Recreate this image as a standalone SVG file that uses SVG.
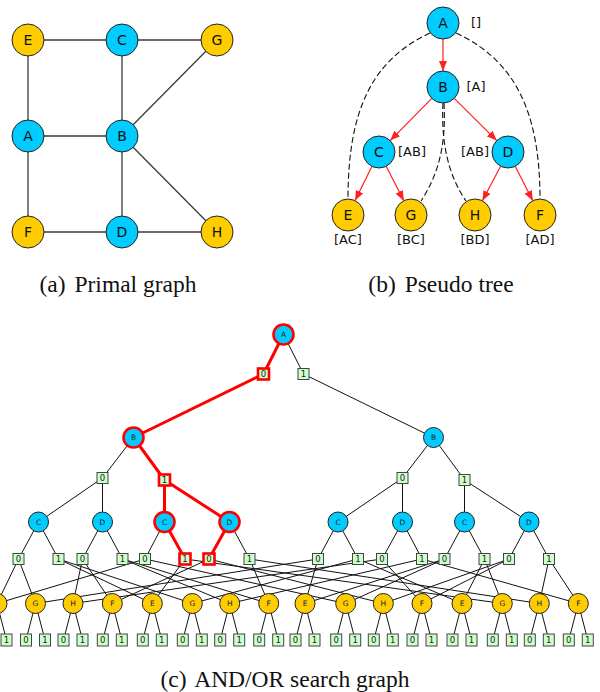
<svg xmlns="http://www.w3.org/2000/svg" width="600" height="692" viewBox="0 0 600 692">
<defs>
<style>
.bg{fill:#ffffff}
.pe{stroke:#3a3a3a;stroke-width:1.3;fill:none}
.nb{fill:#00ccff;stroke:#222;stroke-width:1}
.ny{fill:#ffcc00;stroke:#222;stroke-width:1}
.nt{font-family:"DejaVu Sans",sans-serif;font-size:14px;fill:#111;text-anchor:middle;dominant-baseline:central}
.lb{font-family:"DejaVu Sans",sans-serif;font-size:13px;fill:#111;text-anchor:middle;dominant-baseline:central}
.ra{stroke:#ff2020;stroke-width:1.2;fill:none;marker-end:url(#arr)}
.da{stroke:#111;stroke-width:1.1;fill:none;stroke-dasharray:6 3}
.cap{font-family:"Liberation Serif",serif;font-size:23.5px;fill:#111;text-anchor:middle}
.se{stroke:#111;stroke-width:1;fill:none}
.sr{stroke:#ff0000;stroke-width:3;fill:none;stroke-linecap:round}
.so{fill:#00ccff;stroke:#222;stroke-width:1}
.sy{fill:#ffcc00;stroke:#222;stroke-width:1}
.sa{fill:#ccffcc;stroke:#444;stroke-width:1}
.hl{stroke:#ff0000;stroke-width:2.6}
.st{font-family:"DejaVu Sans",sans-serif;font-size:7.5px;fill:#222;text-anchor:middle;dominant-baseline:central}
.sn{font-family:"DejaVu Sans",sans-serif;font-size:8.5px;fill:#222;text-anchor:middle;dominant-baseline:central}
</style>
<marker id="arr" markerUnits="userSpaceOnUse" markerWidth="10" markerHeight="8" refX="10" refY="4" orient="auto">
<path d="M0,0 L10,4 L0,8 Z" fill="#ff2020"/>
</marker>
</defs>
<rect class="bg" x="0" y="0" width="600" height="692"/>

<!-- (a) Primal graph -->
<g id="primal-edges">
<line class="pe" x1="28" y1="40" x2="122" y2="40"/>
<line class="pe" x1="122" y1="40" x2="217" y2="40"/>
<line class="pe" x1="28" y1="40" x2="28" y2="136"/>
<line class="pe" x1="122" y1="40" x2="122" y2="136"/>
<line class="pe" x1="217" y1="40" x2="122" y2="136"/>
<line class="pe" x1="28" y1="136" x2="122" y2="136"/>
<line class="pe" x1="28" y1="136" x2="28" y2="232"/>
<line class="pe" x1="122" y1="136" x2="122" y2="232"/>
<line class="pe" x1="122" y1="136" x2="217" y2="232"/>
<line class="pe" x1="28" y1="232" x2="122" y2="232"/>
<line class="pe" x1="122" y1="232" x2="217" y2="232"/>
</g>
<g id="pE"><circle class="ny" cx="28" cy="40" r="16"/><text class="nt" x="28" y="40">E</text></g>
<g id="pC"><circle class="nb" cx="122" cy="40" r="16"/><text class="nt" x="122" y="40">C</text></g>
<g id="pG"><circle class="ny" cx="217" cy="40" r="16"/><text class="nt" x="217" y="40">G</text></g>
<g id="pA"><circle class="nb" cx="28" cy="136" r="16"/><text class="nt" x="28" y="136">A</text></g>
<g id="pB"><circle class="nb" cx="122" cy="136" r="16"/><text class="nt" x="122" y="136">B</text></g>
<g id="pF"><circle class="ny" cx="28" cy="232" r="16"/><text class="nt" x="28" y="232">F</text></g>
<g id="pD"><circle class="nb" cx="122" cy="232" r="16"/><text class="nt" x="122" y="232">D</text></g>
<g id="pH"><circle class="ny" cx="217" cy="232" r="16"/><text class="nt" x="217" y="232">H</text></g>
<text class="cap" x="118" y="292">(a)<tspan dx="3"> Primal graph</tspan></text>

<!-- (b) Pseudo tree -->
<g id="tree-edges">
<path class="da" d="M430,33 C372,60 348,110 348,199"/>
<path class="da" d="M456,33 C514,60 540,110 540,199"/>
<path class="da" d="M444,103 C446,142 440,172 421,201"/>
<path class="da" d="M443,103 C441,142 448,175 466,201"/>
<line class="ra" x1="443" y1="39" x2="443" y2="71"/>
<line class="ra" x1="431.8" y1="98.4" x2="390.2" y2="140.6"/>
<line class="ra" x1="454.2" y1="98.4" x2="496.8" y2="140.6"/>
<line class="ra" x1="371.9" y1="166.4" x2="355.1" y2="200.6"/>
<line class="ra" x1="386.2" y1="166.3" x2="403.8" y2="200.7"/>
<line class="ra" x1="500.6" y1="166.2" x2="482.4" y2="200.8"/>
<line class="ra" x1="515.2" y1="166.3" x2="532.8" y2="200.7"/>
</g>
<g id="tA"><circle class="nb" cx="443" cy="23" r="16"/><text class="nt" x="443" y="23">A</text><text class="lb" x="476" y="22">[]</text></g>
<g id="tB"><circle class="nb" cx="443" cy="87" r="16"/><text class="nt" x="443" y="87">B</text><text class="lb" x="476" y="86">[A]</text></g>
<g id="tC"><circle class="nb" cx="379" cy="152" r="16"/><text class="nt" x="379" y="152">C</text><text class="lb" x="412" y="151">[AB]</text></g>
<g id="tD"><circle class="nb" cx="508" cy="152" r="16"/><text class="nt" x="508" y="152">D</text><text class="lb" x="475" y="151">[AB]</text></g>
<g id="tE"><circle class="ny" cx="348" cy="215" r="16"/><text class="nt" x="348" y="215">E</text><text class="lb" x="348" y="239">[AC]</text></g>
<g id="tG"><circle class="ny" cx="411" cy="215" r="16"/><text class="nt" x="411" y="215">G</text><text class="lb" x="411" y="239">[BC]</text></g>
<g id="tH"><circle class="ny" cx="475" cy="215" r="16"/><text class="nt" x="475" y="215">H</text><text class="lb" x="475" y="239">[BD]</text></g>
<g id="tF"><circle class="ny" cx="540" cy="215" r="16"/><text class="nt" x="540" y="215">F</text><text class="lb" x="540" y="239">[AD]</text></g>
<text class="cap" x="441" y="292">(b)<tspan dx="3"> Pseudo tree</tspan></text>

<!-- (c) AND/OR search graph -->
<g id="search-edges">
<line class="se" x1="283.5" y1="334.5" x2="303.5" y2="374"/>
<line class="se" x1="303.5" y1="374" x2="433.5" y2="437.5"/>
<line class="se" x1="133.5" y1="437.5" x2="102.5" y2="478"/>
<line class="se" x1="433.5" y1="437.5" x2="402.5" y2="478"/>
<line class="se" x1="433.5" y1="437.5" x2="464.5" y2="480"/>
<line class="se" x1="102.5" y1="478" x2="38.5" y2="522"/>
<line class="se" x1="102.5" y1="478" x2="102.5" y2="522"/>
<line class="se" x1="402.5" y1="478" x2="338" y2="522"/>
<line class="se" x1="402.5" y1="478" x2="402.5" y2="522"/>
<line class="se" x1="464.5" y1="480" x2="464.5" y2="522"/>
<line class="se" x1="464.5" y1="480" x2="529" y2="522"/>
<line class="se" x1="38.5" y1="522" x2="18.5" y2="559"/>
<line class="se" x1="38.5" y1="522" x2="58.5" y2="559"/>
<line class="se" x1="102.5" y1="522" x2="82.5" y2="559"/>
<line class="se" x1="102.5" y1="522" x2="122.5" y2="559"/>
<line class="se" x1="164.5" y1="522" x2="145" y2="559"/>
<line class="se" x1="229.5" y1="522" x2="249.5" y2="559"/>
<line class="se" x1="338" y1="522" x2="318" y2="559"/>
<line class="se" x1="338" y1="522" x2="358" y2="559"/>
<line class="se" x1="402.5" y1="522" x2="382" y2="559"/>
<line class="se" x1="402.5" y1="522" x2="422" y2="559"/>
<line class="se" x1="464.5" y1="522" x2="444.5" y2="559"/>
<line class="se" x1="464.5" y1="522" x2="484.5" y2="559"/>
<line class="se" x1="529" y1="522" x2="509" y2="559"/>
<line class="se" x1="529" y1="522" x2="549" y2="559"/>
<line class="se" x1="18.5" y1="559" x2="-3" y2="603.5"/>
<line class="se" x1="18.5" y1="559" x2="35.5" y2="603.5"/>
<line class="se" x1="58.5" y1="559" x2="152.3" y2="603.5"/>
<line class="se" x1="58.5" y1="559" x2="192.3" y2="603.5"/>
<line class="se" x1="82.5" y1="559" x2="73" y2="603.5"/>
<line class="se" x1="82.5" y1="559" x2="112.3" y2="603.5"/>
<line class="se" x1="122.5" y1="559" x2="229.7" y2="603.5"/>
<line class="se" x1="122.5" y1="559" x2="268.7" y2="603.5"/>
<line class="se" x1="145" y1="559" x2="-3" y2="603.5"/>
<line class="se" x1="145" y1="559" x2="345.7" y2="603.5"/>
<line class="se" x1="185" y1="559" x2="152.3" y2="603.5"/>
<line class="se" x1="185" y1="559" x2="502.3" y2="603.5"/>
<line class="se" x1="209" y1="559" x2="383.3" y2="603.5"/>
<line class="se" x1="209" y1="559" x2="112.3" y2="603.5"/>
<line class="se" x1="249.5" y1="559" x2="539.3" y2="603.5"/>
<line class="se" x1="249.5" y1="559" x2="268.7" y2="603.5"/>
<line class="se" x1="318" y1="559" x2="305" y2="603.5"/>
<line class="se" x1="318" y1="559" x2="35.5" y2="603.5"/>
<line class="se" x1="358" y1="559" x2="462" y2="603.5"/>
<line class="se" x1="358" y1="559" x2="192.3" y2="603.5"/>
<line class="se" x1="382" y1="559" x2="73" y2="603.5"/>
<line class="se" x1="382" y1="559" x2="422" y2="603.5"/>
<line class="se" x1="422" y1="559" x2="229.7" y2="603.5"/>
<line class="se" x1="422" y1="559" x2="578.3" y2="603.5"/>
<line class="se" x1="444.5" y1="559" x2="305" y2="603.5"/>
<line class="se" x1="444.5" y1="559" x2="345.7" y2="603.5"/>
<line class="se" x1="484.5" y1="559" x2="462" y2="603.5"/>
<line class="se" x1="484.5" y1="559" x2="502.3" y2="603.5"/>
<line class="se" x1="509" y1="559" x2="383.3" y2="603.5"/>
<line class="se" x1="509" y1="559" x2="422" y2="603.5"/>
<line class="se" x1="549" y1="559" x2="539.3" y2="603.5"/>
<line class="se" x1="549" y1="559" x2="578.3" y2="603.5"/>
<path class="se" d="M-3,603.5 L-12.5,640 M-3,603.5 L6.5,640 M35.5,603.5 L26,640 M35.5,603.5 L45,640 M73,603.5 L63.5,640 M73,603.5 L82.5,640 M112.3,603.5 L102.8,640 M112.3,603.5 L121.8,640 M152.3,603.5 L142.8,640 M152.3,603.5 L161.8,640 M192.3,603.5 L182.8,640 M192.3,603.5 L201.8,640 M229.7,603.5 L220.2,640 M229.7,603.5 L239.2,640 M268.7,603.5 L259.2,640 M268.7,603.5 L278.2,640 M305,603.5 L295.5,640 M305,603.5 L314.5,640 M345.7,603.5 L336.2,640 M345.7,603.5 L355.2,640 M383.3,603.5 L373.8,640 M383.3,603.5 L392.8,640 M422,603.5 L412.5,640 M422,603.5 L431.5,640 M462,603.5 L452.5,640 M462,603.5 L471.5,640 M502.3,603.5 L492.8,640 M502.3,603.5 L511.8,640 M539.3,603.5 L529.8,640 M539.3,603.5 L548.8,640 M578.3,603.5 L568.8,640 M578.3,603.5 L587.8,640"/>
<line class="sr" x1="283.5" y1="334.5" x2="263.5" y2="374"/>
<line class="sr" x1="263.5" y1="374" x2="133.5" y2="437.5"/>
<line class="sr" x1="133.5" y1="437.5" x2="164.5" y2="480"/>
<line class="sr" x1="164.5" y1="480" x2="164.5" y2="522"/>
<line class="sr" x1="164.5" y1="480" x2="229.5" y2="522"/>
<line class="sr" x1="164.5" y1="522" x2="185" y2="559"/>
<line class="sr" x1="229.5" y1="522" x2="209" y2="559"/>
</g>

<g id="sA"><circle class="so hl" cx="283.5" cy="334.5" r="10"/><text class="st" x="283.5" y="334.5">A</text></g>
<g id="a0"><rect class="sa hl" x="258" y="368.5" width="11" height="11"/><text class="sn" x="263.5" y="374">0</text></g>
<g id="a1"><rect class="sa" x="298" y="368.5" width="11" height="11"/><text class="sn" x="303.5" y="374">1</text></g>
<g id="sB0"><circle class="so hl" cx="133.5" cy="437.5" r="10"/><text class="st" x="133.5" y="437.5">B</text></g>
<g id="sB1"><circle class="so" cx="433.5" cy="437.5" r="10"/><text class="st" x="433.5" y="437.5">B</text></g>
<g id="b00"><rect class="sa" x="97" y="472.5" width="11" height="11"/><text class="sn" x="102.5" y="478">0</text></g>
<g id="b01"><rect class="sa hl" x="159" y="474.5" width="11" height="11"/><text class="sn" x="164.5" y="480">1</text></g>
<g id="b10"><rect class="sa" x="397" y="472.5" width="11" height="11"/><text class="sn" x="402.5" y="478">0</text></g>
<g id="b11"><rect class="sa" x="459" y="474.5" width="11" height="11"/><text class="sn" x="464.5" y="480">1</text></g>
<g id="sC00"><circle class="so" cx="38.5" cy="522" r="10"/><text class="st" x="38.5" y="522">C</text></g>
<g id="sD00"><circle class="so" cx="102.5" cy="522" r="10"/><text class="st" x="102.5" y="522">D</text></g>
<g id="sC01"><circle class="so hl" cx="164.5" cy="522" r="10"/><text class="st" x="164.5" y="522">C</text></g>
<g id="sD01"><circle class="so hl" cx="229.5" cy="522" r="10"/><text class="st" x="229.5" y="522">D</text></g>
<g id="sC10"><circle class="so" cx="338" cy="522" r="10"/><text class="st" x="338" y="522">C</text></g>
<g id="sD10"><circle class="so" cx="402.5" cy="522" r="10"/><text class="st" x="402.5" y="522">D</text></g>
<g id="sC11"><circle class="so" cx="464.5" cy="522" r="10"/><text class="st" x="464.5" y="522">C</text></g>
<g id="sD11"><circle class="so" cx="529" cy="522" r="10"/><text class="st" x="529" y="522">D</text></g>

<g id="c000"><rect class="sa" x="13" y="553.5" width="11" height="11"/><text class="sn" x="18.5" y="559">0</text></g>
<g id="c001"><rect class="sa" x="53" y="553.5" width="11" height="11"/><text class="sn" x="58.5" y="559">1</text></g>
<g id="d000"><rect class="sa" x="77" y="553.5" width="11" height="11"/><text class="sn" x="82.5" y="559">0</text></g>
<g id="d001"><rect class="sa" x="117" y="553.5" width="11" height="11"/><text class="sn" x="122.5" y="559">1</text></g>
<g id="c010"><rect class="sa" x="139.5" y="553.5" width="11" height="11"/><text class="sn" x="145" y="559">0</text></g>
<g id="c011"><rect class="sa hl" x="179.5" y="553.5" width="11" height="11"/><text class="sn" x="185" y="559">1</text></g>
<g id="d010"><rect class="sa hl" x="203.5" y="553.5" width="11" height="11"/><text class="sn" x="209" y="559">0</text></g>
<g id="d011"><rect class="sa" x="244" y="553.5" width="11" height="11"/><text class="sn" x="249.5" y="559">1</text></g>
<g id="c100"><rect class="sa" x="312.5" y="553.5" width="11" height="11"/><text class="sn" x="318" y="559">0</text></g>
<g id="c101"><rect class="sa" x="352.5" y="553.5" width="11" height="11"/><text class="sn" x="358" y="559">1</text></g>
<g id="d100"><rect class="sa" x="376.5" y="553.5" width="11" height="11"/><text class="sn" x="382" y="559">0</text></g>
<g id="d101"><rect class="sa" x="416.5" y="553.5" width="11" height="11"/><text class="sn" x="422" y="559">1</text></g>
<g id="c110"><rect class="sa" x="439" y="553.5" width="11" height="11"/><text class="sn" x="444.5" y="559">0</text></g>
<g id="c111"><rect class="sa" x="479" y="553.5" width="11" height="11"/><text class="sn" x="484.5" y="559">1</text></g>
<g id="d110"><rect class="sa" x="503.5" y="553.5" width="11" height="11"/><text class="sn" x="509" y="559">0</text></g>
<g id="d111"><rect class="sa" x="543.5" y="553.5" width="11" height="11"/><text class="sn" x="549" y="559">1</text></g>

<g id="sE0"><circle class="sy" cx="-3" cy="603.5" r="10"/></g>
<g id="sG0"><circle class="sy" cx="35.5" cy="603.5" r="10"/><text class="st" x="35.5" y="603.5">G</text></g>
<g id="sH0"><circle class="sy" cx="73" cy="603.5" r="10"/><text class="st" x="73" y="603.5">H</text></g>
<g id="sF0"><circle class="sy" cx="112.3" cy="603.5" r="10"/><text class="st" x="112.3" y="603.5">F</text></g>
<g id="sE1"><circle class="sy" cx="152.3" cy="603.5" r="10"/><text class="st" x="152.3" y="603.5">E</text></g>
<g id="sG1"><circle class="sy" cx="192.3" cy="603.5" r="10"/><text class="st" x="192.3" y="603.5">G</text></g>
<g id="sH1"><circle class="sy" cx="229.7" cy="603.5" r="10"/><text class="st" x="229.7" y="603.5">H</text></g>
<g id="sF1"><circle class="sy" cx="268.7" cy="603.5" r="10"/><text class="st" x="268.7" y="603.5">F</text></g>
<g id="sE2"><circle class="sy" cx="305" cy="603.5" r="10"/><text class="st" x="305" y="603.5">E</text></g>
<g id="sG2"><circle class="sy" cx="345.7" cy="603.5" r="10"/><text class="st" x="345.7" y="603.5">G</text></g>
<g id="sH2"><circle class="sy" cx="383.3" cy="603.5" r="10"/><text class="st" x="383.3" y="603.5">H</text></g>
<g id="sF2"><circle class="sy" cx="422" cy="603.5" r="10"/><text class="st" x="422" y="603.5">F</text></g>
<g id="sE3"><circle class="sy" cx="462" cy="603.5" r="10"/><text class="st" x="462" y="603.5">E</text></g>
<g id="sG3"><circle class="sy" cx="502.3" cy="603.5" r="10"/><text class="st" x="502.3" y="603.5">G</text></g>
<g id="sH3"><circle class="sy" cx="539.3" cy="603.5" r="10"/><text class="st" x="539.3" y="603.5">H</text></g>
<g id="sF3"><circle class="sy" cx="578.3" cy="603.5" r="10"/><text class="st" x="578.3" y="603.5">F</text></g>

<g id="leaves">
<g id="lE0"><rect class="sa" x="1" y="634" width="11" height="12"/><text class="sn" x="6.5" y="640">1</text></g>
<g id="lG0"><rect class="sa" x="20.5" y="634" width="11" height="12"/><text class="sn" x="26" y="640">0</text><rect class="sa" x="39.5" y="634" width="11" height="12"/><text class="sn" x="45" y="640">1</text></g>
<g id="lH0"><rect class="sa" x="58" y="634" width="11" height="12"/><text class="sn" x="63.5" y="640">0</text><rect class="sa" x="77" y="634" width="11" height="12"/><text class="sn" x="82.5" y="640">1</text></g>
<g id="lF0"><rect class="sa" x="97.3" y="634" width="11" height="12"/><text class="sn" x="102.8" y="640">0</text><rect class="sa" x="116.3" y="634" width="11" height="12"/><text class="sn" x="121.8" y="640">1</text></g>
<g id="lE1"><rect class="sa" x="137.3" y="634" width="11" height="12"/><text class="sn" x="142.8" y="640">0</text><rect class="sa" x="156.3" y="634" width="11" height="12"/><text class="sn" x="161.8" y="640">1</text></g>
<g id="lG1"><rect class="sa" x="177.3" y="634" width="11" height="12"/><text class="sn" x="182.8" y="640">0</text><rect class="sa" x="196.3" y="634" width="11" height="12"/><text class="sn" x="201.8" y="640">1</text></g>
<g id="lH1"><rect class="sa" x="214.7" y="634" width="11" height="12"/><text class="sn" x="220.2" y="640">0</text><rect class="sa" x="233.7" y="634" width="11" height="12"/><text class="sn" x="239.2" y="640">1</text></g>
<g id="lF1"><rect class="sa" x="253.7" y="634" width="11" height="12"/><text class="sn" x="259.2" y="640">0</text><rect class="sa" x="272.7" y="634" width="11" height="12"/><text class="sn" x="278.2" y="640">1</text></g>
<g id="lE2"><rect class="sa" x="290" y="634" width="11" height="12"/><text class="sn" x="295.5" y="640">0</text><rect class="sa" x="309" y="634" width="11" height="12"/><text class="sn" x="314.5" y="640">1</text></g>
<g id="lG2"><rect class="sa" x="330.7" y="634" width="11" height="12"/><text class="sn" x="336.2" y="640">0</text><rect class="sa" x="349.7" y="634" width="11" height="12"/><text class="sn" x="355.2" y="640">1</text></g>
<g id="lH2"><rect class="sa" x="368.3" y="634" width="11" height="12"/><text class="sn" x="373.8" y="640">0</text><rect class="sa" x="387.3" y="634" width="11" height="12"/><text class="sn" x="392.8" y="640">1</text></g>
<g id="lF2"><rect class="sa" x="407" y="634" width="11" height="12"/><text class="sn" x="412.5" y="640">0</text><rect class="sa" x="426" y="634" width="11" height="12"/><text class="sn" x="431.5" y="640">1</text></g>
<g id="lE3"><rect class="sa" x="447" y="634" width="11" height="12"/><text class="sn" x="452.5" y="640">0</text><rect class="sa" x="466" y="634" width="11" height="12"/><text class="sn" x="471.5" y="640">1</text></g>
<g id="lG3"><rect class="sa" x="487.3" y="634" width="11" height="12"/><text class="sn" x="492.8" y="640">0</text><rect class="sa" x="506.3" y="634" width="11" height="12"/><text class="sn" x="511.8" y="640">1</text></g>
<g id="lH3"><rect class="sa" x="524.3" y="634" width="11" height="12"/><text class="sn" x="529.8" y="640">0</text><rect class="sa" x="543.3" y="634" width="11" height="12"/><text class="sn" x="548.8" y="640">1</text></g>
<g id="lF3"><rect class="sa" x="563.3" y="634" width="11" height="12"/><text class="sn" x="568.8" y="640">0</text><rect class="sa" x="582.3" y="634" width="11" height="12"/><text class="sn" x="587.8" y="640">1</text></g>
</g>
<text class="cap" x="285" y="687">(c)<tspan dx="3"> AND/OR search graph</tspan></text>
</svg>
